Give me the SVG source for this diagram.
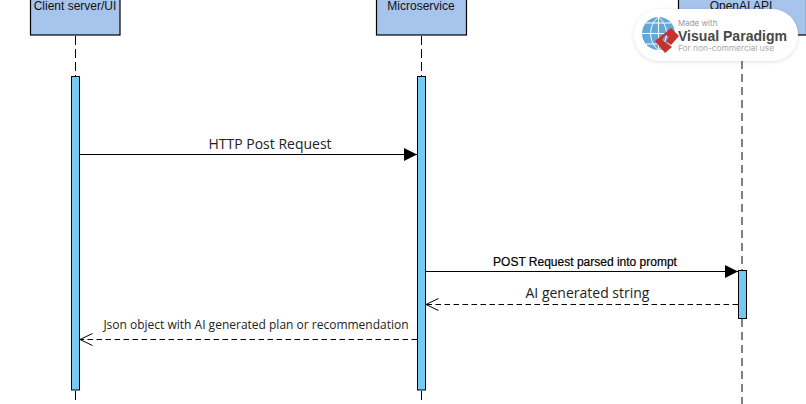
<svg xmlns="http://www.w3.org/2000/svg" width="806" height="404" viewBox="0 0 806 404">
<style>
.box{fill:#a6c4ec;stroke:#000;stroke-width:1.2}
.act{fill:#74c9f5;stroke:#000;stroke-width:1}
.life{stroke:#000;stroke-width:1;stroke-dasharray:9 4;fill:none}
.msg{stroke:#000;stroke-width:1;fill:none}
.ret{stroke:#000;stroke-width:1;stroke-dasharray:5.5 3.5;fill:none}
.nm{font-family:"Liberation Sans",Arial,sans-serif;font-size:12px;fill:#111;text-anchor:middle}
.lb{font-family:"Open Sans","Noto Sans",sans-serif;fill:#222;text-anchor:middle}
</style>
<defs>
<marker id="solid" markerUnits="userSpaceOnUse" markerWidth="14" markerHeight="14" refX="13" refY="6.5" orient="auto"><path d="M0 0L13 6.500L0 13Z" fill="#000"/></marker>
<marker id="open" markerUnits="userSpaceOnUse" markerWidth="14" markerHeight="14" refX="13" refY="6.5" orient="auto"><path d="M0.500 0.500L13 6.500L0.500 12.500" fill="none" stroke="#000"/></marker>
<filter id="sh" x="-10%" y="-20%" width="120%" height="140%"><feGaussianBlur stdDeviation="2"/></filter>
</defs>
<g id="lifelines">
<path class="life" d="M75.500 36V76M75.500 391V404"/>
<path class="life" d="M421.500 36V76M421.500 391V404"/>
<path class="life" style="stroke:#808080;stroke-width:2;stroke-dasharray:8 5" d="M742 61V270M742 319V404"/>
</g>
<g id="client"><rect class="box" x="30.500" y="-2" width="89.500" height="37"/><text class="nm" x="75" y="10">Client server/UI</text><rect class="act" x="71.500" y="76.500" width="8" height="313.500"/></g>
<g id="microservice"><rect class="box" x="376.500" y="-2" width="90" height="37"/><text class="nm" x="421" y="10">Microservice</text><rect class="act" x="417.500" y="76.500" width="8" height="313.500"/></g>
<g id="openai"><rect class="box" x="678.500" y="-2" width="128" height="37"/><text class="nm" x="741" y="10">OpenAI API</text><rect class="act" x="738.500" y="270.500" width="8" height="48"/></g>
<g id="connectors">
<path class="msg" marker-end="url(#solid)" d="M80 154.500H417"/>
<path class="msg" marker-end="url(#solid)" d="M425.500 271.500H738"/>
<path class="ret" marker-end="url(#open)" d="M738 304.500H426"/>
<path class="ret" marker-end="url(#open)" d="M417 339.500H80"/>
</g>
<g id="labels">
<text class="lb" x="270" y="149" font-size="14">HTTP Post Request</text>
<text class="nm" x="585" y="266" style="fill:#000;stroke:#000;stroke-width:.2">POST Request parsed into prompt</text>
<text class="lb" x="587.500" y="298" font-size="14">AI generated string</text>
<text class="lb" x="256" y="329" font-size="12">Json object with AI generated plan or recommendation</text>
</g>
<g id="badge">
<rect x="634" y="10" width="164" height="52" rx="26" fill="#000" opacity=".12" filter="url(#sh)"/>
<rect x="634" y="9" width="164" height="52" rx="26" fill="#fff"/>
<circle cx="658.500" cy="33.500" r="16.500" fill="#62a9d8"/>
<path d="M658.500 17V50M642 33.500H675M646 23H671M646 44H671M658.500 17C648 25 648 42 658.500 50M658.500 17C669 25 669 42 658.500 50" fill="none" stroke="#fff" stroke-width="1"/>
<path d="M655 41L671 28L679 36L671 45L666 41L669 37L666 35L662 40L672 47L665 53Z" fill="#c9302c"/>
<text x="678" y="25.500" font-family="Inter,'Liberation Sans',sans-serif" font-size="8" fill="#999">Made with</text>
<text x="678" y="41" font-family="'Liberation Sans',sans-serif" font-size="15" font-weight="700" fill="#484848" textLength="109" lengthAdjust="spacingAndGlyphs">Visual Paradigm</text>
<text x="678" y="51" font-family="Inter,'Liberation Sans',sans-serif" font-size="8" fill="#aaa" textLength="96" lengthAdjust="spacingAndGlyphs">For non-commercial use</text>
</g>
</svg>
